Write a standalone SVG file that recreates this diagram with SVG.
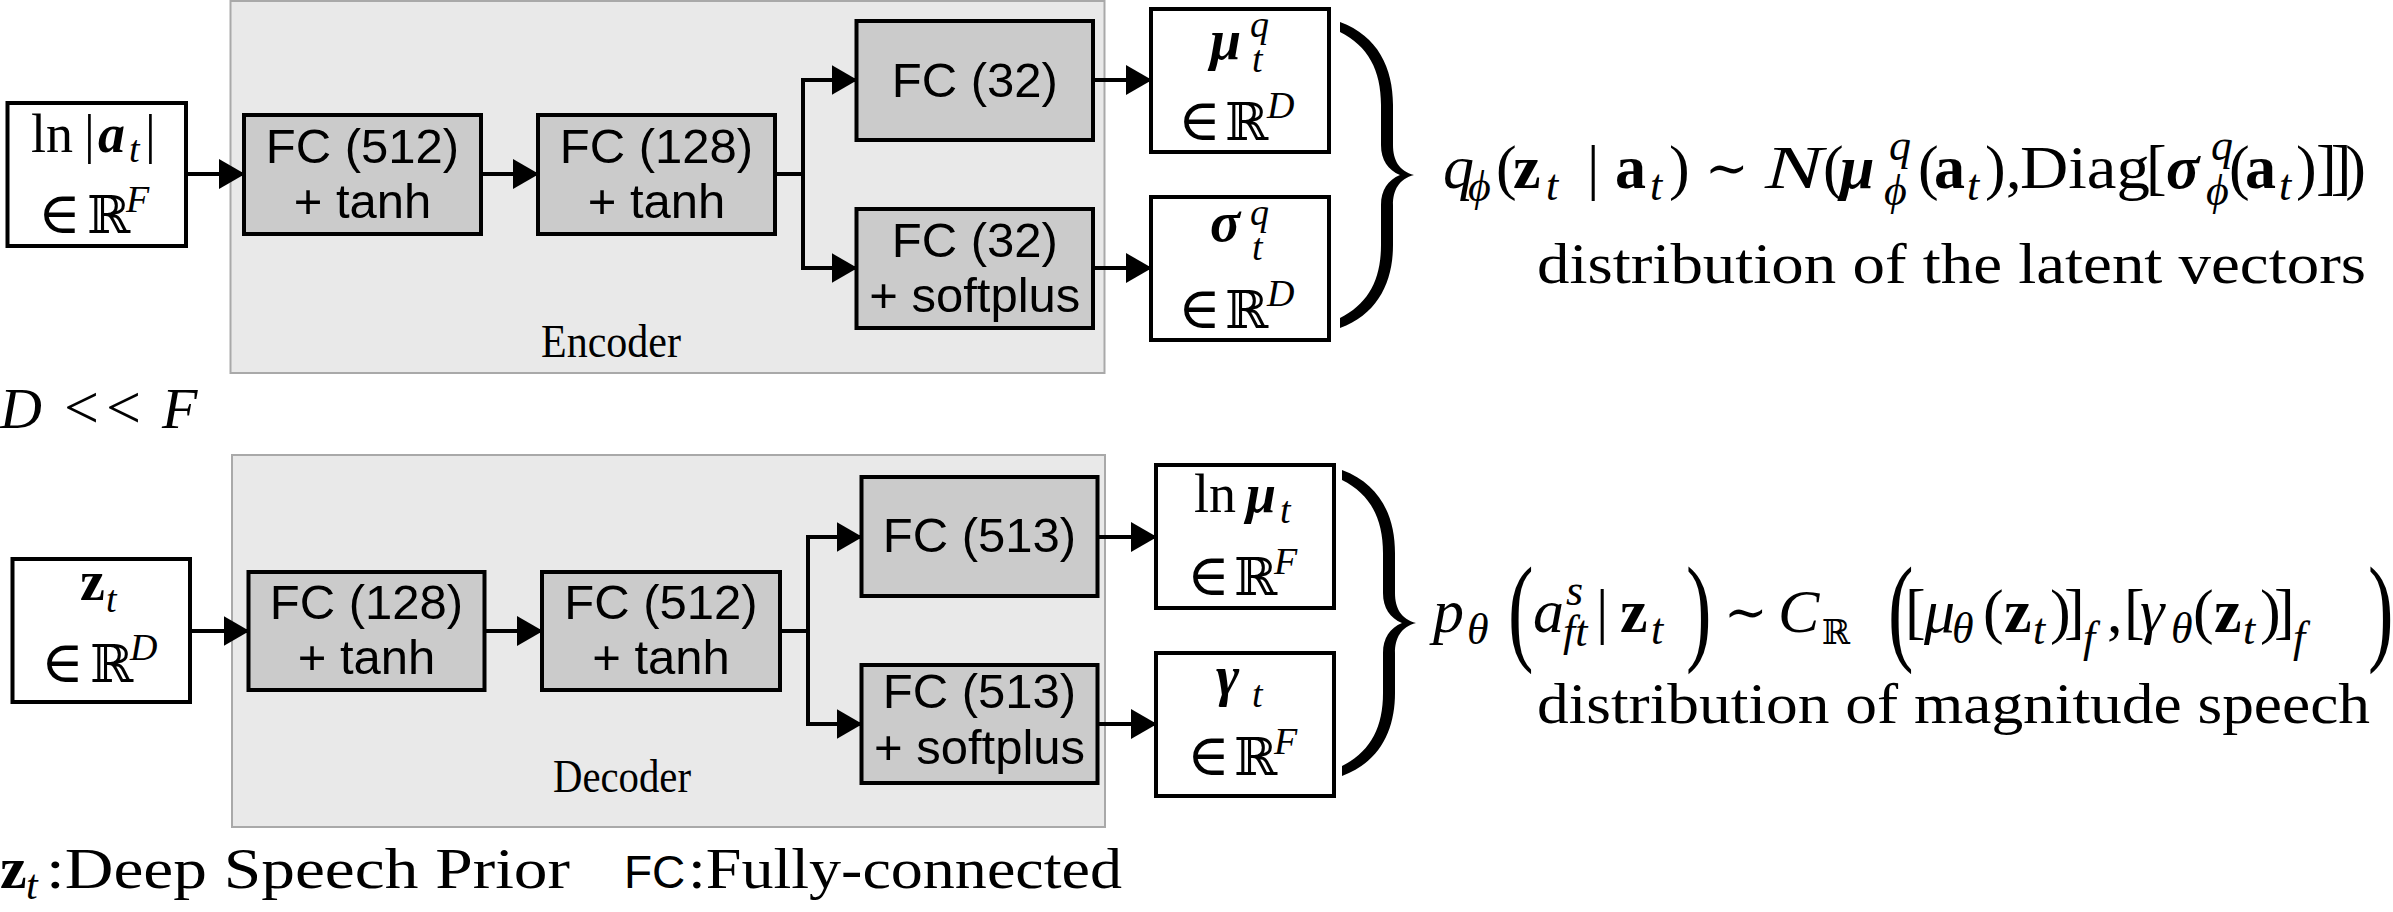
<svg xmlns="http://www.w3.org/2000/svg" width="2393" height="912" viewBox="0 0 2393 912">
<style>
.panel{fill:#e9e9e9;stroke:#a9a9a9;stroke-width:2}
.fc{fill:#cbcbcb;stroke:#000;stroke-width:4}
.io{fill:#fff;stroke:#000;stroke-width:4}
.sans{font-family:"Liberation Sans",Arial,sans-serif;font-size:49px;text-anchor:middle;fill:#000}
.m{font-family:"Liberation Serif","DejaVu Serif","DejaVu Sans",serif;fill:#000}
.sim{font-family:"DejaVu Serif","DejaVu Sans",serif;font-size:52px;fill:#000}
.el{font-family:"DejaVu Serif","DejaVu Sans",serif;font-size:58px}
.i{font-style:italic}
.b{font-weight:bold}
.wire{fill:none;stroke:#000;stroke-width:4}
.brace{fill:#000}
</style>
<defs>
<marker id="ah" markerUnits="userSpaceOnUse" markerWidth="26" markerHeight="30" refX="25" refY="15" orient="auto">
<path d="M0,0 L26,15 L0,30 Z" fill="#000"/>
</marker>
<path id="brace" class="brace" d="M1340,22 C1378,36 1393,68 1393,105 L1393,145 C1393,160 1399,171 1414,175 C1399,179 1393,190 1393,205 L1393,245 C1393,282 1378,314 1340,328 L1340,318 C1368,304 1381,280 1381,245 L1381,205 C1381,190 1388,180 1400,175 C1388,170 1381,160 1381,145 L1381,105 C1381,70 1368,46 1340,32 Z"/>
</defs>

<g id="encoder-panel">
<rect class="panel" x="230.5" y="1" width="874" height="372"/>
<text class="m" x="611" y="357" font-size="46" text-anchor="middle" textLength="140" lengthAdjust="spacingAndGlyphs">Encoder</text>
</g>
<g id="decoder-panel">
<rect class="panel" x="232" y="455" width="873" height="372"/>
<text class="m" x="622" y="792" font-size="46" text-anchor="middle" textLength="138" lengthAdjust="spacingAndGlyphs">Decoder</text>
</g>

<g id="connectors">
<path class="wire" d="M186,174 H244" marker-end="url(#ah)"/>
<path class="wire" d="M481,174 H538" marker-end="url(#ah)"/>
<path class="wire" d="M775,174 H803 V80 H856.5" marker-end="url(#ah)"/>
<path class="wire" d="M803,174 V268 H856.5" marker-end="url(#ah)"/>
<path class="wire" d="M1093,80 H1151" marker-end="url(#ah)"/>
<path class="wire" d="M1093,268 H1151" marker-end="url(#ah)"/>
<path class="wire" d="M190,631 H248.5" marker-end="url(#ah)"/>
<path class="wire" d="M484.5,631 H542" marker-end="url(#ah)"/>
<path class="wire" d="M780,631 H808 V537 H861.5" marker-end="url(#ah)"/>
<path class="wire" d="M808,631 V724 H861.5" marker-end="url(#ah)"/>
<path class="wire" d="M1097.5,537 H1156" marker-end="url(#ah)"/>
<path class="wire" d="M1097.5,724 H1156" marker-end="url(#ah)"/>
</g>

<g id="input-a">
<rect class="io" x="7.5" y="103" width="178.5" height="143"/>
<text class="m" font-size="54"><tspan x="31" y="152">ln</tspan><tspan x="84" y="152">|</tspan><tspan x="98" y="152" class="b i">a</tspan><tspan x="129" y="162" class="i" font-size="38">t</tspan><tspan x="145" y="152">|</tspan></text>
<text class="m"><tspan x="38" y="233" class="el">∈</tspan><tspan x="87" y="233" font-size="52">ℝ</tspan><tspan x="126" y="212" class="i" font-size="38">F</tspan></text>
</g>

<g id="enc-fc512">
<rect class="fc" x="244" y="115" width="237" height="119"/>
<text class="sans"><tspan x="362.5" y="163">FC (512)</tspan><tspan x="362.5" y="218">+ tanh</tspan></text>
</g>
<g id="enc-fc128">
<rect class="fc" x="538" y="115" width="237" height="119"/>
<text class="sans"><tspan x="656.5" y="163">FC (128)</tspan><tspan x="656.5" y="218">+ tanh</tspan></text>
</g>
<g id="enc-fc32-mu">
<rect class="fc" x="856.5" y="21" width="236.5" height="119"/>
<text class="sans" x="974.75" y="97">FC (32)</text>
</g>
<g id="enc-fc32-sigma">
<rect class="fc" x="856.5" y="209" width="236.5" height="119"/>
<text class="sans"><tspan x="974.75" y="257">FC (32)</tspan><tspan x="974.75" y="312">+ softplus</tspan></text>
</g>

<g id="out-mu-q">
<rect class="io" x="1151" y="9" width="178" height="143"/>
<text class="m" font-size="56" x="1210" y="59"><tspan class="b i">μ</tspan></text>
<text class="m i" font-size="38"><tspan x="1250" y="37">q</tspan><tspan x="1252" y="72">t</tspan></text>
<text class="m"><tspan x="1178" y="140" class="el">∈</tspan><tspan x="1225" y="140" font-size="52">ℝ</tspan><tspan x="1267" y="118" class="i" font-size="38">D</tspan></text>
</g>
<g id="out-sigma-q">
<rect class="io" x="1151" y="197" width="178" height="143"/>
<text class="m" font-size="56" x="1210" y="241"><tspan class="b i">σ</tspan></text>
<text class="m i" font-size="38"><tspan x="1250" y="225">q</tspan><tspan x="1252" y="260">t</tspan></text>
<text class="m"><tspan x="1178" y="328" class="el">∈</tspan><tspan x="1225" y="328" font-size="52">ℝ</tspan><tspan x="1267" y="306" class="i" font-size="38">D</tspan></text>
</g>

<g id="enc-brace"><use href="#brace"/></g>

<g id="enc-formula">
<text class="m" font-size="62">
<tspan x="1443" y="188" class="i">q</tspan><tspan x="1468" y="201" class="i" font-size="44">ϕ</tspan><tspan x="1496" y="188">(</tspan><tspan x="1513" y="188" class="b">z</tspan><tspan x="1546" y="200" class="i" font-size="44">t</tspan><tspan x="1587" y="188">|</tspan><tspan x="1615" y="188" class="b">a</tspan><tspan x="1650" y="200" class="i" font-size="44">t</tspan><tspan x="1669" y="188">)</tspan><tspan x="1823" y="188">(</tspan><tspan x="1840" y="188" class="b i">μ</tspan><tspan x="1918" y="188">(</tspan><tspan x="1934" y="188" class="b">a</tspan><tspan x="1967" y="200" class="i" font-size="44">t</tspan><tspan x="1985" y="188">)</tspan><tspan x="2006" y="188">,</tspan><tspan x="2146" y="188">[</tspan><tspan x="2166" y="188" class="b i">σ</tspan><tspan x="2229" y="188">(</tspan><tspan x="2245" y="188" class="b">a</tspan><tspan x="2279" y="200" class="i" font-size="44">t</tspan><tspan x="2296" y="188">)</tspan><tspan x="2316" y="188" letter-spacing="-6">]])</tspan>
</text>
<text class="sim" x="1705" y="186">∼</text>
<text class="m i" font-size="62" x="1765" y="188" textLength="58" lengthAdjust="spacingAndGlyphs">N</text>
<text class="m" font-size="62" x="2020" y="188" textLength="130" lengthAdjust="spacingAndGlyphs">Diag</text>
<text class="m i" font-size="44"><tspan x="1889" y="160">q</tspan><tspan x="2211" y="160">q</tspan></text>
<text class="m i" font-size="44"><tspan x="1884" y="205">ϕ</tspan><tspan x="2206" y="205">ϕ</tspan></text>
<text class="m" x="1537" y="283" font-size="58" textLength="829" lengthAdjust="spacingAndGlyphs">distribution of the latent vectors</text>
</g>

<g id="d-less-f">
<text class="m" font-size="58"><tspan x="0" y="428" class="i">D</tspan><tspan x="64" y="428" font-size="62">&lt;</tspan><tspan x="106" y="428" font-size="62">&lt;</tspan><tspan x="162" y="428" class="i">F</tspan></text>
</g>

<g id="input-z">
<rect class="io" x="12.5" y="559" width="177.5" height="143"/>
<text class="m" font-size="56"><tspan x="80" y="600" class="b">z</tspan><tspan x="106" y="612" class="i" font-size="38">t</tspan></text>
<text class="m"><tspan x="41" y="682" class="el">∈</tspan><tspan x="90" y="682" font-size="52">ℝ</tspan><tspan x="130" y="660" class="i" font-size="38">D</tspan></text>
</g>

<g id="dec-fc128">
<rect class="fc" x="248.5" y="572" width="236" height="118"/>
<text class="sans"><tspan x="366.5" y="619">FC (128)</tspan><tspan x="366.5" y="674">+ tanh</tspan></text>
</g>
<g id="dec-fc512">
<rect class="fc" x="542" y="572" width="238" height="118"/>
<text class="sans"><tspan x="661" y="619">FC (512)</tspan><tspan x="661" y="674">+ tanh</tspan></text>
</g>
<g id="dec-fc513-mu">
<rect class="fc" x="861.5" y="477" width="236" height="119"/>
<text class="sans" x="979.5" y="552">FC (513)</text>
</g>
<g id="dec-fc513-gamma">
<rect class="fc" x="861.5" y="665" width="236" height="118"/>
<text class="sans"><tspan x="979.5" y="708">FC (513)</tspan><tspan x="979.5" y="764">+ softplus</tspan></text>
</g>

<g id="out-ln-mu">
<rect class="io" x="1156" y="465" width="178" height="143"/>
<text class="m" font-size="54"><tspan x="1194" y="512">ln</tspan><tspan x="1246" y="512" class="b i">μ</tspan><tspan x="1280" y="523" class="i" font-size="38">t</tspan></text>
<text class="m"><tspan x="1187" y="595" class="el">∈</tspan><tspan x="1234" y="595" font-size="52">ℝ</tspan><tspan x="1274" y="574" class="i" font-size="38">F</tspan></text>
</g>
<g id="out-gamma">
<rect class="io" x="1156" y="653" width="178" height="143"/>
<text class="m" font-size="56"><tspan x="1216" y="695" class="b i">γ</tspan><tspan x="1252" y="707" class="i" font-size="38">t</tspan></text>
<text class="m"><tspan x="1187" y="775" class="el">∈</tspan><tspan x="1234" y="775" font-size="52">ℝ</tspan><tspan x="1274" y="754" class="i" font-size="38">F</tspan></text>
</g>

<g id="dec-brace"><use href="#brace" transform="translate(2,448)"/></g>

<g id="dec-formula">
<text class="m" font-size="62">
<tspan x="1433" y="632" class="i">p</tspan><tspan x="1533" y="632" class="i">a</tspan><tspan x="1596" y="632">|</tspan><tspan x="1620" y="632" class="b">z</tspan><tspan x="1778" y="632" class="i">C</tspan><tspan x="1905" y="632">[</tspan><tspan x="1924" y="632" class="i">μ</tspan><tspan x="1983" y="632">(</tspan><tspan x="2004" y="632" class="b">z</tspan><tspan x="2050" y="632">)</tspan><tspan x="2064" y="632">]</tspan><tspan x="2107" y="632">,</tspan><tspan x="2124" y="632">[</tspan><tspan x="2140" y="632" class="i">γ</tspan><tspan x="2193" y="632">(</tspan><tspan x="2214" y="632" class="b">z</tspan><tspan x="2260" y="632">)</tspan><tspan x="2274" y="632">]</tspan>
</text>
<text class="sim" x="1724" y="630">∼</text>
<text class="m i" font-size="44"><tspan x="1467" y="644">θ</tspan><tspan x="1566" y="605">s</tspan></text>
<text class="m i" font-size="44"><tspan x="1563" y="646">ft</tspan><tspan x="1651" y="644">t</tspan><tspan x="1952" y="643">θ</tspan><tspan x="2033" y="644">t</tspan><tspan x="2083" y="652">f</tspan><tspan x="2171" y="643">θ</tspan><tspan x="2243" y="644">t</tspan><tspan x="2293" y="652">f</tspan></text>
<text class="m" font-size="34" x="1822" y="644">ℝ</text>
<text class="m" font-size="118" transform="translate(1508,649) scale(0.65,1)">(</text>
<text class="m" font-size="118" transform="translate(1686,649) scale(0.65,1)">)</text>
<text class="m" font-size="118" transform="translate(1888,649) scale(0.65,1)">(</text>
<text class="m" font-size="118" transform="translate(2368,649) scale(0.65,1)">)</text>
<text class="m" x="1537" y="723" font-size="58" textLength="833" lengthAdjust="spacingAndGlyphs">distribution of magnitude speech</text>
</g>

<g id="legend">
<text class="m" font-size="60"><tspan x="0" y="888" class="b">z</tspan><tspan x="26" y="899" class="i" font-size="42">t</tspan></text>
<text class="m" font-size="58" x="46" y="888" textLength="524" lengthAdjust="spacingAndGlyphs">:Deep Speech Prior</text>
<text font-family="Liberation Sans, Arial, sans-serif" font-size="46" x="624" y="888">FC</text>
<text class="m" font-size="58" x="688" y="888" textLength="434" lengthAdjust="spacingAndGlyphs">:Fully-connected</text>
</g>
</svg>
